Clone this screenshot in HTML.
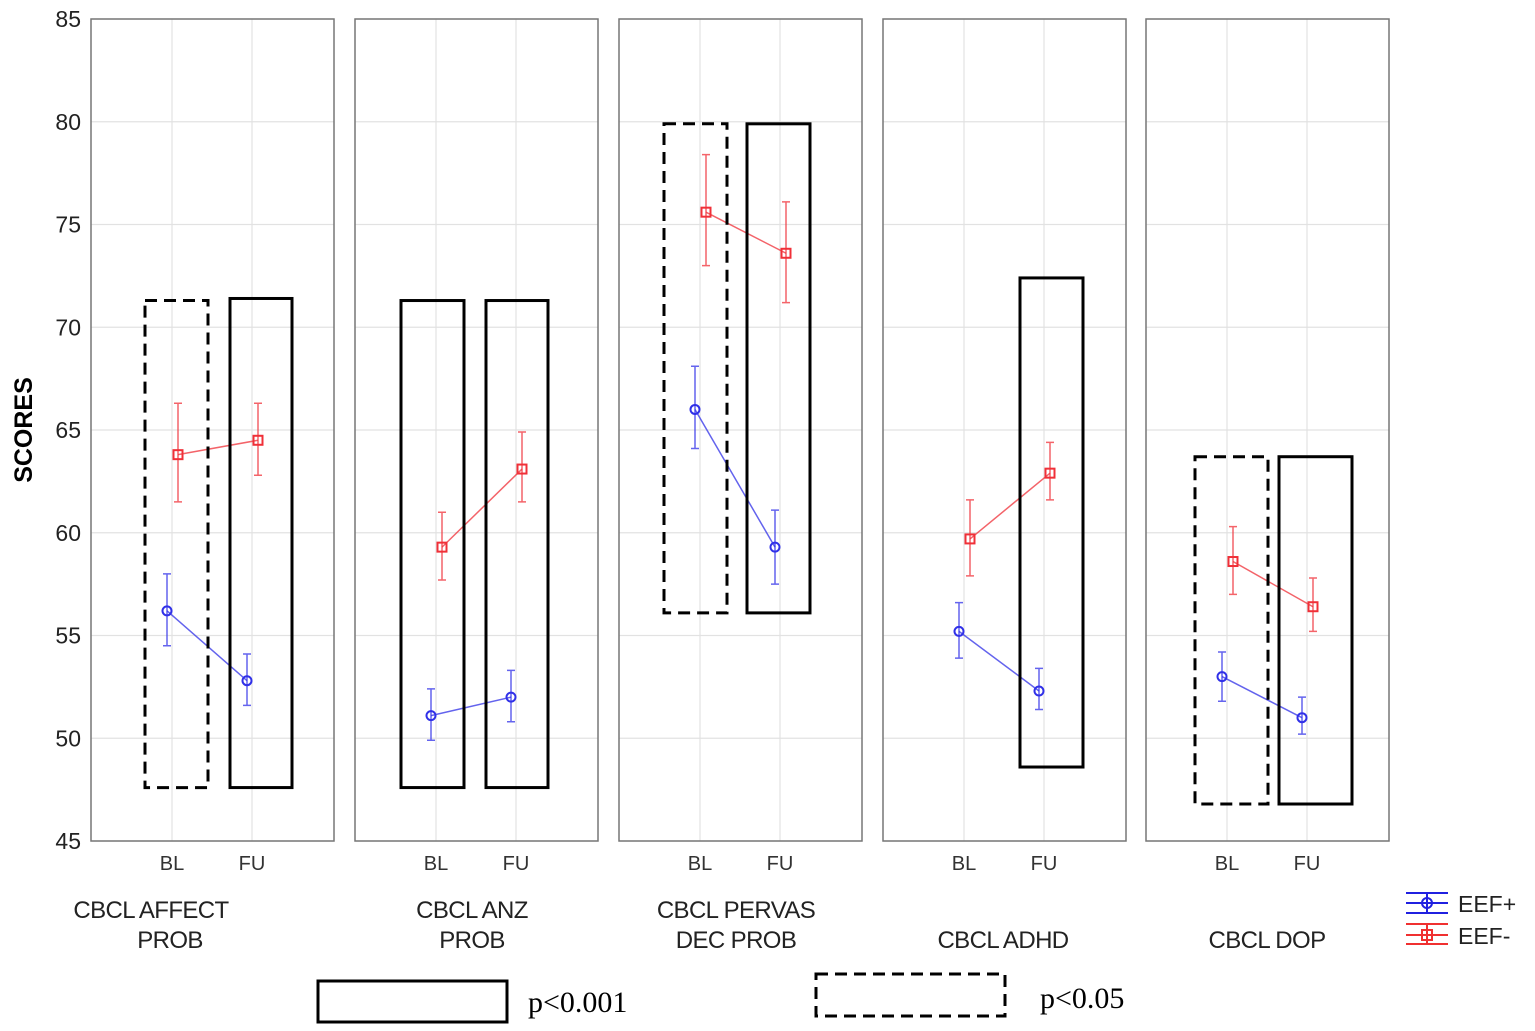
<!DOCTYPE html>
<html><head><meta charset="utf-8"><style>
body{margin:0;background:#fff;}
svg{display:block;font-family:"Liberation Sans",sans-serif;}
</style></head><body>
<svg id="chart" width="1535" height="1031" viewBox="0 0 1535 1031">
<g id="panels"></g>
<text x="32" y="430" transform="rotate(-90 32 430)" text-anchor="middle" font-size="25" font-weight="bold" fill="#000">SCORES</text>
<g>
<g>
<line x1="1406" y1="893" x2="1448" y2="893" stroke="#2020e0" stroke-width="2"/>
<line x1="1406" y1="913" x2="1448" y2="913" stroke="#2020e0" stroke-width="2"/>
<line x1="1406" y1="903" x2="1448" y2="903" stroke="#2020e0" stroke-width="2"/>
<line x1="1427" y1="893" x2="1427" y2="913" stroke="#2020e0" stroke-width="2"/>
<circle cx="1427" cy="903" r="5" fill="none" stroke="#2020e0" stroke-width="2"/>
<text x="1458" y="912" font-size="23" fill="#222">EEF+</text>
</g>
<g>
<line x1="1406" y1="924" x2="1448" y2="924" stroke="#f03030" stroke-width="2"/>
<line x1="1406" y1="944" x2="1448" y2="944" stroke="#f03030" stroke-width="2"/>
<line x1="1406" y1="935" x2="1448" y2="935" stroke="#f03030" stroke-width="2"/>
<line x1="1427" y1="924" x2="1427" y2="944" stroke="#f03030" stroke-width="2"/>
<rect x="1422" y="930" width="10" height="10" fill="none" stroke="#f03030" stroke-width="2"/>
<text x="1458" y="944" font-size="23" fill="#222">EEF-</text>
</g>
</g>
<g>
<rect x="318" y="981" width="189" height="41" fill="none" stroke="#000" stroke-width="3"/>
<text x="528" y="1012" font-family="Liberation Serif,serif" font-size="30" fill="#000">p&lt;0.001</text>
<rect x="816" y="974" width="189" height="42" fill="none" stroke="#000" stroke-width="3" stroke-dasharray="12,7"/>
<text x="1040" y="1008" font-family="Liberation Serif,serif" font-size="30" fill="#000">p&lt;0.05</text>
</g>
</svg>
<script>
const categories=[["CBCL AFFECT","PROB"],["CBCL ANZ","PROB"],["CBCL PERVAS","DEC PROB"],["CBCL ADHD"],["CBCL DOP"]];
const timepoints=["BL","FU"];
const yTicks=[45,50,55,60,65,70,75,80,85];
const eefPlus=[[56.2,52.8],[51.1,52.0],[66.0,59.3],[55.2,52.3],[53.0,51.0]];
const eefPlusHi=[[58.0,54.1],[52.4,53.3],[68.1,61.1],[56.6,53.4],[54.2,52.0]];
const eefPlusLo=[[54.5,51.6],[49.9,50.8],[64.1,57.5],[53.9,51.4],[51.8,50.2]];
const eefMinus=[[63.8,64.5],[59.3,63.1],[75.6,73.6],[59.7,62.9],[58.6,56.4]];
const eefMinusHi=[[66.3,66.3],[61.0,64.9],[78.4,76.1],[61.6,64.4],[60.3,57.8]];
const eefMinusLo=[[61.5,62.8],[57.7,61.5],[73.0,71.2],[57.9,61.6],[57.0,55.2]];
const boxPanel=[0,0,1,1,2,2,3,4,4];
const boxTime=[0,1,0,1,0,1,1,0,1];
const boxTop=[71.3,71.4,71.3,71.3,79.9,79.9,72.4,63.7,63.7];
const boxBottom=[47.6,47.6,47.6,47.6,56.1,56.1,48.6,46.8,46.8];
const boxType=["dashed","solid","solid","solid","dashed","solid","solid","dashed","solid"];
const boxShift=[4.5,9,-3.5,1,-4.5,-1.5,7.5,4.5,8.5];
const boxW=[63,62,63,62,63,63,63,73,73];
const labelCenters=[[151,170],[472,472],[736,736],[1003],[1267]];

const NS="http://www.w3.org/2000/svg";
const panelLeft=[91,355,619,883,1146], panelW=243, plotTop=19, plotBottom=841;
const yMin=45,yMax=85;
function yS(v){return plotBottom-(v-yMin)/(yMax-yMin)*(plotBottom-plotTop);}
function xS(p,t){return panelLeft[p]+81+t*80;}
const g=document.getElementById('panels');
function mk(tag,attrs,parent){const e=document.createElementNS(NS,tag);for(const k in attrs)e.setAttribute(k,attrs[k]);(parent||g).appendChild(e);return e;}

yTicks.forEach(v=>{
  const t=mk('text',{x:81,y:yS(v)+8,'text-anchor':'end','font-size':23,fill:'#222'});
  
  
  t.textContent=v;
});

for(let p=0;p<5;p++){
  const pg=mk('g',{});
  
  
  yTicks.forEach(v=>{
    const l=mk('line',{x1:panelLeft[p],x2:panelLeft[p]+panelW,y1:yS(v),y2:yS(v),stroke:'#e2e2e2','stroke-width':1.2},pg);
    
    
  });
  for(let t=0;t<2;t++){
    const l=mk('line',{x1:xS(p,t),x2:xS(p,t),y1:plotTop,y2:plotBottom,stroke:'#e2e2e2','stroke-width':1.2},pg);
    
    
    const tl=mk('text',{x:xS(p,t),y:870,'text-anchor':'middle','font-size':20,fill:'#333'},pg);
    
    
    tl.textContent=timepoints[t];
  }
  const fr=mk('rect',{x:panelLeft[p],y:plotTop,width:panelW,height:plotBottom-plotTop,fill:'none',stroke:'#777','stroke-width':1.5},pg);
  
  
  const lines=categories[p];
  lines.forEach((s,i)=>{
    const yy=lines.length===2?918+i*30:948;
    const ct=mk('text',{x:labelCenters[p][i],y:yy,'text-anchor':'middle','font-size':24,fill:'#222','letter-spacing':'-0.6'},pg);
    
    
    ct.textContent=s;
  });
  const series=[{v:eefPlus,hi:eefPlusHi,lo:eefPlusLo,c:'#3030e8',dx:-5,shape:'circle',n:'eef-plus'},{v:eefMinus,hi:eefMinusHi,lo:eefMinusLo,c:'#f03038',dx:6,shape:'square',n:'eef-minus'}];
  series.forEach(s=>{
    const ln=mk('line',{x1:xS(p,0)+s.dx,y1:yS(s.v[p][0]),x2:xS(p,1)+s.dx,y2:yS(s.v[p][1]),stroke:s.c,'stroke-width':1.5,opacity:0.75},pg);
    
    
    for(let t=0;t<2;t++){
      const xx=xS(p,t)+s.dx;
      const eb=mk('path',{d:`M${xx},${yS(s.hi[p][t])}V${yS(s.lo[p][t])}M${xx-4},${yS(s.hi[p][t])}H${xx+4}M${xx-4},${yS(s.lo[p][t])}H${xx+4}`,stroke:s.c,'stroke-width':1.5,fill:'none',opacity:0.75},pg);
      
      
      let m;
      if(s.shape==='circle') m=mk('circle',{cx:xx,cy:yS(s.v[p][t]),r:4.5,fill:'none',stroke:s.c,'stroke-width':2},pg);
      else m=mk('rect',{x:xx-4.5,y:yS(s.v[p][t])-4.5,width:9,height:9,fill:'none',stroke:s.c,'stroke-width':2},pg);
      
      
    }
  });
}
for(let i=0;i<boxPanel.length;i++){
  const cx=xS(boxPanel[i],boxTime[i])+boxShift[i];
  const a={x:cx-boxW[i]/2,y:yS(boxTop[i]),width:boxW[i],height:yS(boxBottom[i])-yS(boxTop[i]),fill:'none',stroke:'#000','stroke-width':3};
  if(boxType[i]==='dashed')a['stroke-dasharray']='12,7';
  const b=mk('rect',a);
  
  
}
</script>
</body></html>
